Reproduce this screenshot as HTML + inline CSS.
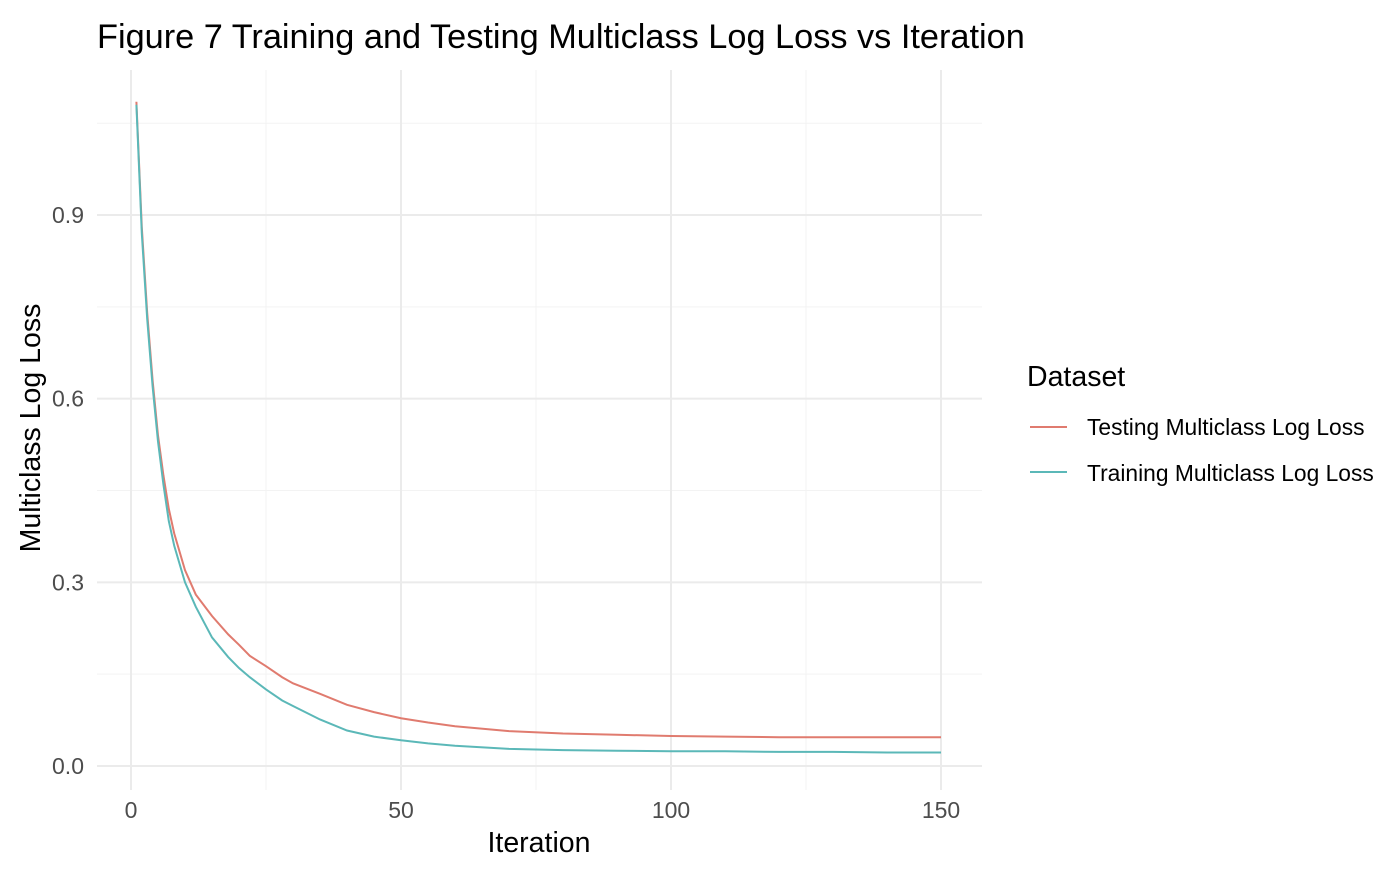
<!DOCTYPE html>
<html><head><meta charset="utf-8"><style>
body{margin:0;background:#fff;font-family:"Liberation Sans",sans-serif;}
svg text{font-family:"Liberation Sans",sans-serif;}
</style></head><body>
<svg id="chart" width="1387" height="883">
<text x="97" y="48" font-size="34.3" fill="#000">Figure 7 Training and Testing Multiclass Log Loss vs Iteration</text>
<g id="grid"></g>
<g id="lines"></g>
<g id="ticks"></g>
<text x="539" y="852" font-size="28.5" text-anchor="middle">Iteration</text>
<text transform="translate(40,428) rotate(-90)" font-size="28.5" text-anchor="middle">Multiclass Log Loss</text>
<g>
<text x="1027" y="386" font-size="28.5">Dataset</text>
<line x1="1030" y1="427" x2="1067" y2="427" stroke="#e07b6f" stroke-width="2"/>
<text x="1087" y="435" font-size="22.8">Testing Multiclass Log Loss</text>
<line x1="1030" y1="472" x2="1067" y2="472" stroke="#5bb8b8" stroke-width="2"/>
<text x="1087" y="481" font-size="22.8">Training Multiclass Log Loss</text>
</g>
</svg>
<script>
const iterations=[1,2,3,4,5,6,7,8,10,12,15,18,20,22,25,28,30,35,40,45,50,55,60,70,80,90,100,110,120,130,140,150];
const testing=[1.085,0.88,0.74,0.63,0.54,0.475,0.42,0.38,0.32,0.28,0.245,0.215,0.198,0.18,0.163,0.145,0.135,0.118,0.1,0.088,0.078,0.071,0.065,0.057,0.053,0.051,0.049,0.048,0.047,0.047,0.047,0.047];
const training=[1.08,0.87,0.73,0.62,0.53,0.46,0.4,0.36,0.3,0.26,0.21,0.178,0.16,0.145,0.125,0.107,0.098,0.076,0.058,0.048,0.042,0.037,0.033,0.028,0.026,0.025,0.024,0.024,0.023,0.023,0.022,0.022];
const xTicks=[0,50,100,150];
const yTicks=[0,0.3,0.6,0.9];
const X=v=>131+v*5.4, Y=v=>766-v*612.2;
const ns="http://www.w3.org/2000/svg";
const g=document.getElementById('grid'), tk=document.getElementById('ticks'), ln=document.getElementById('lines');
function mk(tag,attrs,parent){const e=document.createElementNS(ns,tag);for(const k in attrs)e.setAttribute(k,attrs[k]);parent.appendChild(e);return e;}
[25,75,125].forEach(v=>{const e=mk('line',{x1:X(v),x2:X(v),y1:70,y2:790,stroke:'#f3f3f3','stroke-width':1},g);

});
[0.15,0.45,0.75,1.05].forEach(v=>{const e=mk('line',{x1:97,x2:982,y1:Y(v),y2:Y(v),stroke:'#f3f3f3','stroke-width':1},g);

});
xTicks.forEach(v=>{const e=mk('line',{x1:X(v),x2:X(v),y1:70,y2:790,stroke:'#ebebeb','stroke-width':2},g);


const t=mk('text',{x:X(v),y:818,'font-size':23,fill:'#4d4d4d','text-anchor':'middle'},tk);t.textContent=v;

});
yTicks.forEach(v=>{const e=mk('line',{x1:97,x2:982,y1:Y(v),y2:Y(v),stroke:'#ebebeb','stroke-width':2},g);


const t=mk('text',{x:84,y:Y(v)+8,'font-size':23,fill:'#4d4d4d','text-anchor':'end'},tk);t.textContent=v.toFixed(1);

});
function path(vals,color,name){const d=iterations.map((it,i)=>(i?'L':'M')+X(it)+','+Y(vals[i])).join(' ');
const p=mk('path',{d:d,fill:'none',stroke:color,'stroke-width':2},ln);

}
path(testing,'#e07b6f','testing-line');
path(training,'#5bb8b8','training-line');
</script>
</body></html>
